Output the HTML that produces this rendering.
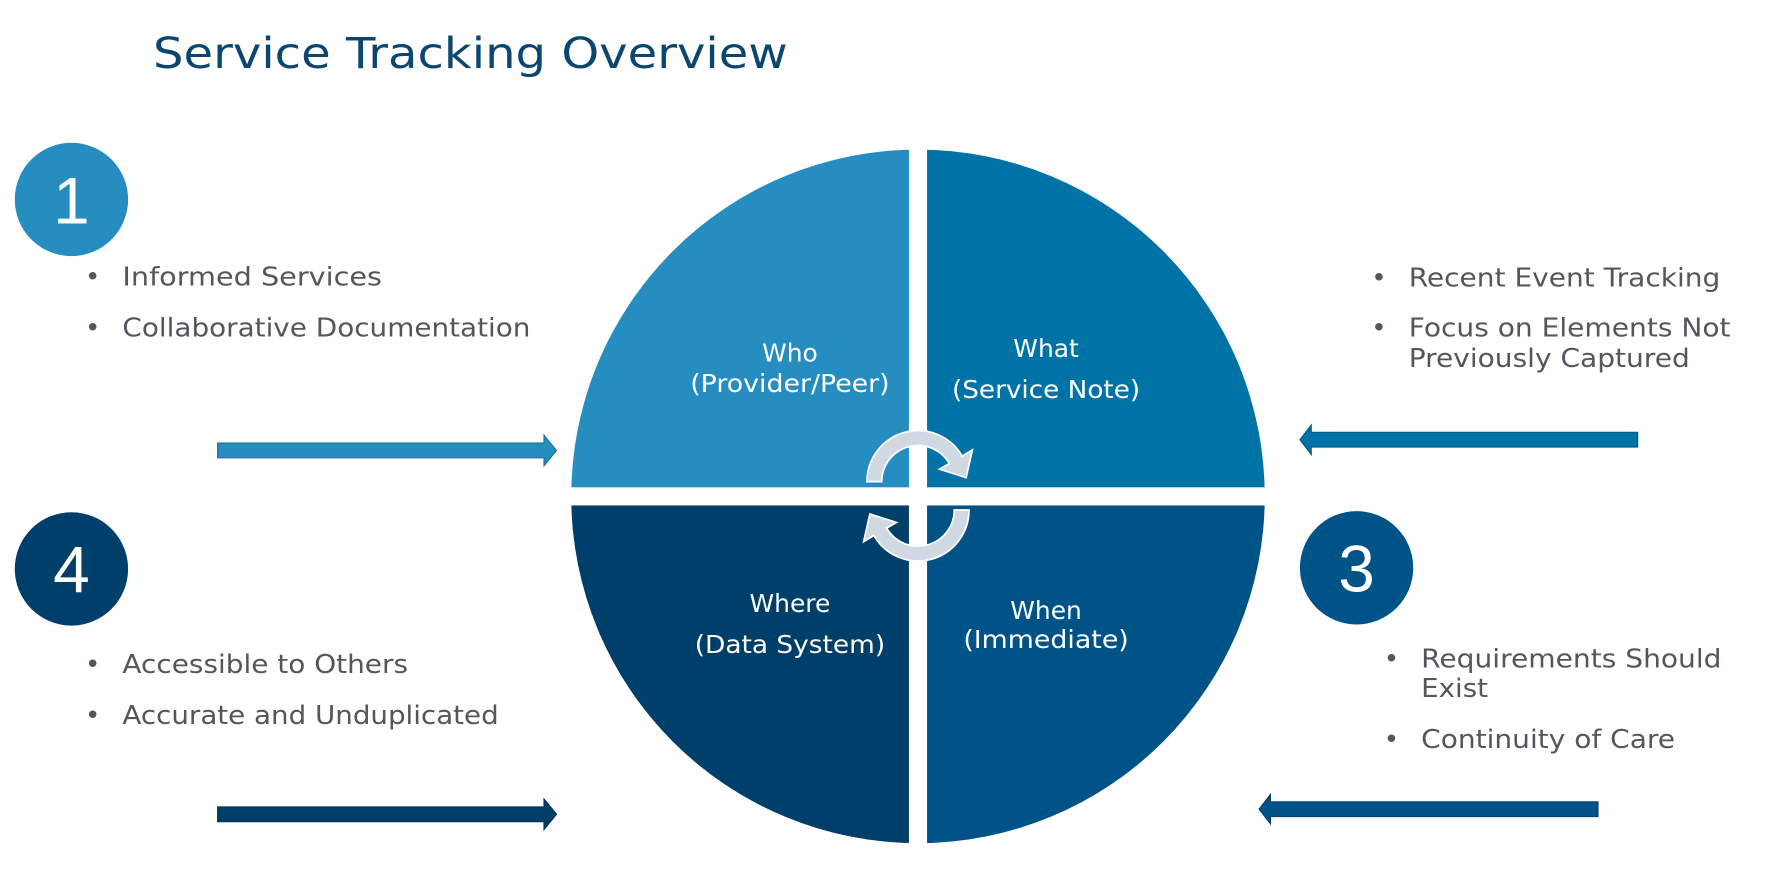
<!DOCTYPE html>
<html><head><meta charset="utf-8"><style>
html,body{margin:0;padding:0;background:#fff;}
svg{display:block;}
text{font-family:"DejaVu Sans","Liberation Sans",sans-serif;}
.b{fill:#555560;font-size:23px;}
.q{fill:#fff;font-size:22px;text-anchor:middle;}
.n{fill:#fff;font-size:58px;text-anchor:middle;font-family:"Liberation Sans",sans-serif;}
</style></head><body>
<svg width="1768" height="886" viewBox="0 0 1560 781.8" xmlns="http://www.w3.org/2000/svg">
<defs>
<clipPath id="c"><circle cx="810" cy="438" r="306"/></clipPath>
</defs>
<text x="135" y="60" fill="#0b4670" font-size="38" textLength="560" lengthAdjust="spacingAndGlyphs">Service Tracking Overview</text>

<g clip-path="url(#c)">
<rect x="480" y="100" width="322" height="330" fill="#258dc0"/>
<rect x="818" y="100" width="322" height="330" fill="#0073a6"/>
<rect x="480" y="446" width="322" height="330" fill="#003f69"/>
<rect x="818" y="446" width="322" height="330" fill="#005387"/>
</g>

<text class="q" x="697" y="319">Who</text>
<text class="q" x="697" y="346" textLength="176" lengthAdjust="spacingAndGlyphs">(Provider/Peer)</text>
<text class="q" x="923" y="315">What</text>
<text class="q" x="923" y="351" textLength="166" lengthAdjust="spacingAndGlyphs">(Service Note)</text>
<text class="q" x="697" y="540">Where</text>
<text class="q" x="697" y="576" textLength="168" lengthAdjust="spacingAndGlyphs">(Data System)</text>
<text class="q" x="923" y="546">When</text>
<text class="q" x="923" y="572" textLength="146" lengthAdjust="spacingAndGlyphs">(Immediate)</text>

<g fill="#d0d9e2" stroke="#fff" stroke-width="1.5">
<path d="M765,425 A45,45 0 0 1 849,402.5 L858,397 L852.5,421.5 L829,414 L837.7,409 A32,32 0 0 0 778,425 Z"/>
<path transform="rotate(180 810 437.5)" d="M765,425 A45,45 0 0 1 849,402.5 L858,397 L852.5,421.5 L829,414 L837.7,409 A32,32 0 0 0 778,425 Z"/>
</g>

<circle cx="63" cy="176" r="50" fill="#258dc0"/>
<text class="n" x="63" y="197">1</text>
<circle cx="63" cy="502" r="50" fill="#003f69"/>
<text class="n" x="63" y="523">4</text>
<circle cx="1197" cy="501" r="50" fill="#005387"/>
<text class="n" x="1197" y="522">3</text>

<g class="b">
<text x="75" y="252">•</text><text x="108" y="252" textLength="229" lengthAdjust="spacingAndGlyphs">Informed Services</text>
<text x="75" y="297">•</text><text x="108" y="297" textLength="360" lengthAdjust="spacingAndGlyphs">Collaborative Documentation</text>
<text x="1210" y="253">•</text><text x="1243" y="253" textLength="275" lengthAdjust="spacingAndGlyphs">Recent Event Tracking</text>
<text x="1210" y="297">•</text><text x="1243" y="297" textLength="284" lengthAdjust="spacingAndGlyphs">Focus on Elements Not</text>
<text x="1243" y="324" textLength="248" lengthAdjust="spacingAndGlyphs">Previously Captured</text>
<text x="75" y="594">•</text><text x="108" y="594" textLength="252" lengthAdjust="spacingAndGlyphs">Accessible to Others</text>
<text x="75" y="639">•</text><text x="108" y="639" textLength="332" lengthAdjust="spacingAndGlyphs">Accurate and Unduplicated</text>
<text x="1221" y="589">•</text><text x="1254" y="589" textLength="265" lengthAdjust="spacingAndGlyphs">Requirements Should</text>
<text x="1254" y="615" textLength="59" lengthAdjust="spacingAndGlyphs">Exist</text>
<text x="1221" y="660">•</text><text x="1254" y="660" textLength="224" lengthAdjust="spacingAndGlyphs">Continuity of Care</text>
</g>

<polygon points="192,391 480,391 480,384 491,397.5 480,411 480,404 192,404" fill="#258dc0" stroke="#1f6f98" stroke-width="1"/>
<polygon points="1445,381.5 1157,381.5 1157,375 1147,388 1157,401 1157,394.5 1445,394.5" fill="#0073a6" stroke="#005a82" stroke-width="1"/>
<polygon points="192,712 480,712 480,705 491,718.5 480,732 480,725 192,725" fill="#003f69" stroke="#00304f" stroke-width="1"/>
<polygon points="1410,707.5 1121,707.5 1121,701 1111,714 1121,727 1121,720.5 1410,720.5" fill="#005387" stroke="#00416a" stroke-width="1"/>
</svg>
</body></html>
